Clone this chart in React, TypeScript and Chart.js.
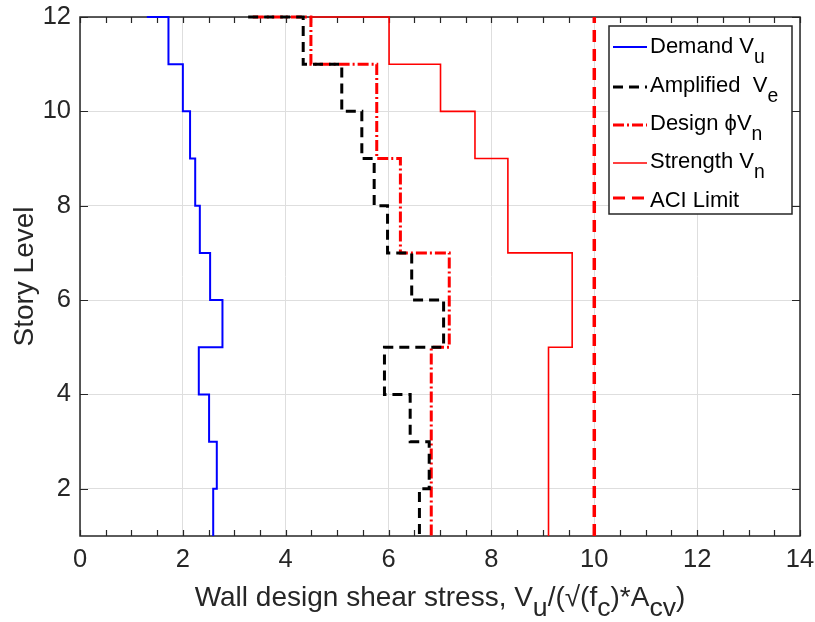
import React, { useEffect, useRef } from 'react';
import { Chart, registerables } from 'chart.js';

Chart.register(...registerables);

// ---------- data ----------
const storyLevels = [12, 11, 10, 9, 8, 7, 6, 5, 4, 3, 2, 1];

// value at roof start, then one value per story interval (12-11 ... 2-1)
const demandTop = 1.3;
const demandVu = [1.72, 2.0, 2.14, 2.24, 2.33, 2.53, 2.77, 2.31, 2.51, 2.66, 2.59];

const amplifiedTop = 3.27;
const amplifiedVe = [4.34, 5.09, 5.48, 5.72, 5.98, 6.45, 7.07, 5.92, 6.42, 6.79, 6.6];

const designTop = 3.36;
const designPhiVn = [4.49, 5.77, 5.77, 6.23, 6.23, 7.18, 7.18, 6.83, 6.83, 6.83, 6.83];

const strengthTop = 4.45;
const strengthVn = [6.01, 7.01, 7.68, 8.32, 8.32, 9.57, 9.57, 9.11, 9.11, 9.11, 9.11];

const aciLimit = 10;

const xTickValues = [0, 2, 4, 6, 8, 10, 12, 14];
const yTickValues = [2, 4, 6, 8, 10, 12];

type Part = { t: string; sub?: boolean };
const legendLabels: Part[][] = [
  [{ t: 'Demand V' }, { t: 'u', sub: true }],
  [{ t: 'Amplified  V' }, { t: 'e', sub: true }],
  [{ t: 'Design \u03D5V' }, { t: 'n', sub: true }],
  [{ t: 'Strength V' }, { t: 'n', sub: true }],
  [{ t: 'ACI Limit' }],
];
const xTitle: Part[] = [
  { t: 'Wall design shear stress, V' },
  { t: 'u', sub: true },
  { t: '/(\u221A(f' },
  { t: 'c', sub: true },
  { t: ')*A' },
  { t: 'cv', sub: true },
  { t: ')' },
];
const yTitle = 'Story Level';

// ---------- helpers ----------
function stairs(top: number, vals: number[]) {
  const pts = [{ x: top, y: storyLevels[0] }];
  vals.forEach((v, i) => {
    pts.push({ x: v, y: storyLevels[i] });
    pts.push({ x: v, y: storyLevels[i + 1] });
  });
  return pts;
}

const FONT = '"Liberation Sans", Arial, Helvetica, sans-serif';
const AX = '#262626';

function drawRich(
  ctx: CanvasRenderingContext2D,
  parts: Part[],
  x: number,
  y: number,
  size: number,
  subScale: number,
  subDrop: number,
  align: 'left' | 'center'
) {
  const widths = parts.map((p) => {
    ctx.font = `${p.sub ? size * subScale : size}px ${FONT}`;
    return ctx.measureText(p.t).width;
  });
  const total = widths.reduce((a, b) => a + b, 0);
  let cx = align === 'center' ? x - total / 2 : x;
  ctx.textBaseline = 'alphabetic';
  ctx.textAlign = 'left';
  parts.forEach((p, i) => {
    ctx.font = `${p.sub ? size * subScale : size}px ${FONT}`;
    ctx.fillText(p.t, cx, p.sub ? y + subDrop : y);
    cx += widths[i];
  });
}

const framePlugin = {
  id: 'frame',
  beforeDatasetsDraw(chart: any) {
    const { ctx, chartArea: a, scales } = chart;
    const xs = scales.x;
    const ys = scales.y;
    ctx.save();
    ctx.strokeStyle = AX;
    ctx.lineWidth = 1.2;
    ctx.beginPath();
    for (let v = 0; v <= 14.0001; v += 0.5) {
      const px = Math.round(xs.getPixelForValue(v)) + 0.5;
      ctx.moveTo(px, a.bottom);
      ctx.lineTo(px, a.bottom - 6);
      ctx.moveTo(px, a.top);
      ctx.lineTo(px, a.top + 6);
    }
    yTickValues.forEach((v) => {
      const py = Math.round(ys.getPixelForValue(v)) + 0.5;
      ctx.moveTo(a.left, py);
      ctx.lineTo(a.left + 8, py);
      ctx.moveTo(a.right, py);
      ctx.lineTo(a.right - 8, py);
    });
    ctx.stroke();
    ctx.lineWidth = 1.5;
    ctx.strokeRect(a.left, a.top, a.right - a.left, a.bottom - a.top);
    ctx.restore();
  },
  afterDraw(chart: any) {
    const { ctx, chartArea: a } = chart;
    ctx.save();
    // axis titles
    ctx.fillStyle = AX;
    drawRich(ctx, xTitle, (a.left + a.right) / 2, 606, 28, 0.95, 10, 'center');
    ctx.save();
    ctx.translate(33, (a.top + a.bottom) / 2);
    ctx.rotate(-Math.PI / 2);
    ctx.font = `28px ${FONT}`;
    ctx.textAlign = 'center';
    ctx.textBaseline = 'alphabetic';
    ctx.fillText(yTitle, 0, 0);
    ctx.restore();

    // legend
    const lx = 609, ly = 26, lw = 183, lh = 188;
    ctx.fillStyle = '#ffffff';
    ctx.fillRect(lx, ly, lw, lh);
    ctx.strokeStyle = AX;
    ctx.lineWidth = 1.5;
    ctx.strokeRect(lx, ly, lw, lh);
    const baselines = [53.3, 92.3, 130.3, 168.3, 206.5];
    const lineYs = [47, 87, 125, 163, 198];
    const dsList = chart.data.datasets;
    dsList.forEach((ds: any, i: number) => {
      ctx.save();
      ctx.strokeStyle = ds.borderColor;
      ctx.lineWidth = Math.min(ds.borderWidth, 3);
      ctx.setLineDash(ds.borderDash || []);
      ctx.lineCap = 'butt';
      ctx.beginPath();
      ctx.moveTo(613, lineYs[i]);
      ctx.lineTo(647, lineYs[i]);
      ctx.stroke();
      ctx.restore();
      ctx.fillStyle = '#000000';
      drawRich(ctx, legendLabels[i], 650, baselines[i], 22, 0.88, 10, 'left');
    });
    ctx.restore();
  },
};

export default function App() {
  const ref = useRef<HTMLCanvasElement>(null);

  useEffect(() => {
    if (!ref.current) return;
    const chart = new Chart(ref.current, {
      type: 'scatter',
      data: {
        datasets: [
          {
            label: 'Demand Vu',
            data: stairs(demandTop, demandVu),
            showLine: true,
            borderColor: '#0000ff',
            borderWidth: 2,
            pointRadius: 0,
            clip: false,
          },
          {
            label: 'Amplified Ve',
            data: stairs(amplifiedTop, amplifiedVe),
            showLine: true,
            borderColor: '#000000',
            borderWidth: 3,
            borderDash: [10, 6],
            pointRadius: 0,
            clip: false,
          },
          {
            label: 'Design phiVn',
            data: stairs(designTop, designPhiVn),
            showLine: true,
            borderColor: '#ff0000',
            borderWidth: 3,
            borderDash: [11, 3, 2, 3],
            pointRadius: 0,
            clip: false,
          },
          {
            label: 'Strength Vn',
            data: stairs(strengthTop, strengthVn),
            showLine: true,
            borderColor: '#ff0000',
            borderWidth: 1.6,
            pointRadius: 0,
            clip: false,
          },
          {
            label: 'ACI Limit',
            data: [
              { x: aciLimit, y: storyLevels[storyLevels.length - 1] },
              { x: aciLimit, y: storyLevels[0] },
            ],
            showLine: true,
            borderColor: '#ff0000',
            borderWidth: 3.5,
            borderDash: [12, 7],
            pointRadius: 0,
            clip: false,
          },
        ] as any,
      },
      options: {
        animation: false,
        responsive: true,
        maintainAspectRatio: false,
        layout: { padding: { left: 0, right: 15, top: 17, bottom: 0 } },
        plugins: {
          legend: { display: false },
          tooltip: { enabled: false },
        },
        elements: { line: { tension: 0, borderCapStyle: 'butt', borderJoinStyle: 'miter' } },
        scales: {
          x: {
            type: 'linear',
            min: 0,
            max: 14,
            afterBuildTicks: (s: any) => {
              s.ticks = xTickValues.map((v) => ({ value: v }));
            },
            afterFit: (s: any) => {
              s.height = 86;
              s.paddingLeft = 0;
              s.paddingRight = 0;
              s.paddingTop = 0;
              s.paddingBottom = 0;
            },
            ticks: {
              color: AX,
              font: { family: FONT, size: 25.5 },
              padding: 9,
              maxRotation: 0,
              autoSkip: false,
            },
            grid: { color: '#dedede', lineWidth: 1, drawTicks: false },
            border: { display: false },
          },
          y: {
            type: 'linear',
            min: 1,
            max: 12,
            afterBuildTicks: (s: any) => {
              s.ticks = yTickValues.map((v) => ({ value: v }));
            },
            afterFit: (s: any) => {
              s.width = 80;
              s.paddingLeft = 0;
              s.paddingRight = 0;
              s.paddingTop = 0;
              s.paddingBottom = 0;
            },
            ticks: {
              color: AX,
              font: { family: FONT, size: 25.5 },
              padding: 9,
              autoSkip: false,
            },
            grid: { color: '#dedede', lineWidth: 1, drawTicks: false },
            border: { display: false },
          },
        },
      },
      plugins: [framePlugin],
    } as any);
    return () => chart.destroy();
  }, []);

  return (
    <div style={{ position: 'fixed', left: 0, top: 0, width: 815, height: 622, background: '#fff' }}>
      <canvas ref={ref} />
    </div>
  );
}
